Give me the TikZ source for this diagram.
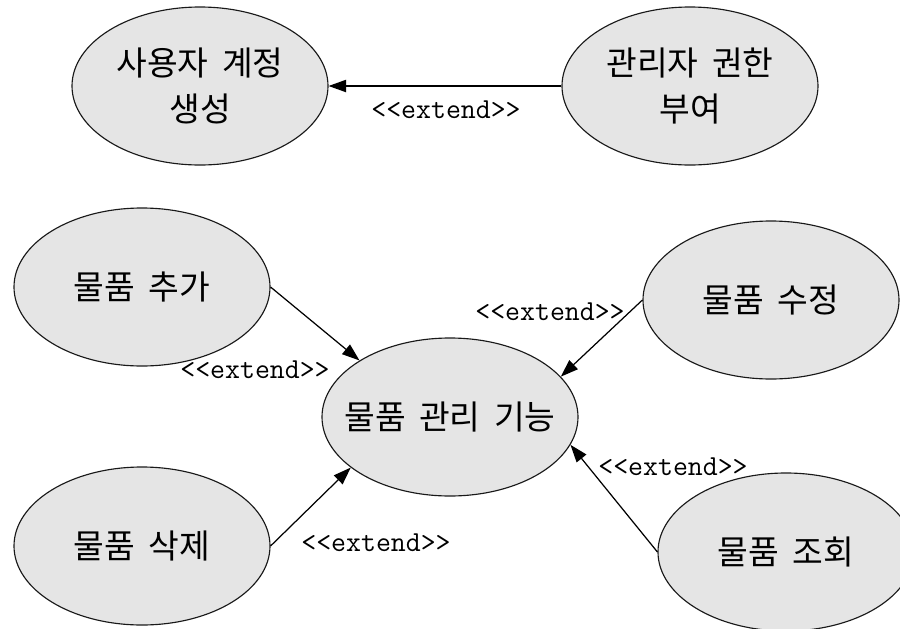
\documentclass[tikz,border=0pt]{standalone}
\usepackage{fontspec}
\newfontfamily\kfont[WordSpace=1.8]{Noto Sans CJK KR}
\usepackage{tikz}
\usetikzlibrary{shapes.geometric,arrows.meta,calc}
\tikzstyle{usecase}=[draw=black!90, fill=black!10, line width=0.65pt, shape=ellipse, minimum width=5.12cm, minimum height=3.16cm, inner xsep=-0.9cm, inner ysep=0pt, align=center, font=\kfont\fontsize{19}{26.6}\selectfont]
\tikzstyle{ext}=[font=\ttfamily\fontsize{16.5}{18}\selectfont, inner sep=0pt]
\tikzstyle{assoc}=[-{Triangle[length=10pt,width=7pt]}, line width=0.7pt]

\begin{document}
\begin{tikzpicture}
	\useasboundingbox (0,0) rectangle (18,-12.58);

	\node[usecase] (create) at (4,-1.72) {사용자 계정\\생성};
	\node[usecase] (grant) at (13.8,-1.72) {관리자 권한\\부여};

	\node[usecase] (add) at (2.84,-5.74) {물품 추가};
	\node[usecase] (edit) at (15.42,-6) {물품 수정};
	\node[usecase] (manage) at (9,-8.34) {물품 관리 기능};
	\node[usecase] (del) at (2.84,-10.92) {물품 삭제};
	\node[usecase] (view) at (15.72,-11.04) {물품 조회};

	\node[ext] (ext1) at ($(create)!0.5!(grant)+(0.02,-0.48)$) {<<extend>>};
	\node[ext] (ext2) at ($(manage)+(-3.9,0.94)$) {<<extend>>};
	\node[ext] (ext3) at ($(manage)+(2,2.1)$) {<<extend>>};
	\node[ext] (ext4) at ($(manage)+(-1.48,-2.52)$) {<<extend>>};
	\node[ext] (ext5) at ($(manage)+(4.46,-1)$) {<<extend>>};

	\draw[assoc] (grant) -- (create);
	\draw[assoc] (add.east) -- (manage.148);
	\draw[assoc] (edit.west) -- (manage.20);
	\draw[assoc] (del.east) -- (manage.207);
	\draw[assoc] (view.west) -- (manage.-13);

\end{tikzpicture}
\end{document}
